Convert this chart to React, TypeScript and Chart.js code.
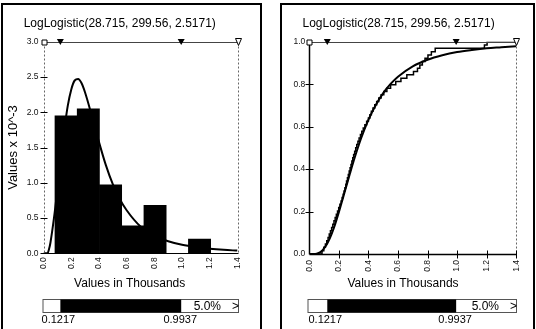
import React, { useEffect, useRef } from 'react';
import { Chart, registerables } from 'chart.js';

Chart.register(...registerables);

// ---------- data ----------
const TITLE = 'LogLogistic(28.715, 299.56, 2.5171)';
const X_TITLE = 'Values in Thousands';
const Y_TITLE_LEFT = 'Values x 10^-3';

const X_MIN = 0;
const X_MAX = 1.4;
const X_TICKS = [0, 0.2, 0.4, 0.6, 0.8, 1.0, 1.2, 1.4];
const LEFT_Y_TICKS = [0, 0.5, 1.0, 1.5, 2.0, 2.5, 3.0];
const RIGHT_Y_TICKS = [0, 0.2, 0.4, 0.6, 0.8, 1.0];

// histogram (bin centres in thousands, density x 10^-3)
const binCenters = [0.163, 0.3235, 0.484, 0.6445, 0.805, 0.9655, 1.126];
const binHeights = [1.95, 2.05, 0.97, 0.39, 0.68, 0, 0.2];

// fitted LogLogistic curve
const curveX = [0, 0.029, 0.04, 0.05, 0.075, 0.1, 0.125, 0.15, 0.175, 0.2, 0.225, 0.25, 0.275, 0.3, 0.35, 0.4, 0.45, 0.5, 0.55, 0.6, 0.7, 0.8, 0.9, 1.0, 1.1, 1.2, 1.3, 1.4];
const densityY = [0, 0, 0.06, 0.15, 0.49, 0.9, 1.34, 1.75, 2.09, 2.32, 2.45, 2.47, 2.41, 2.28, 1.94, 1.58, 1.25, 0.98, 0.77, 0.61, 0.38, 0.25, 0.17, 0.12, 0.088, 0.065, 0.049, 0.038];
const cdfY = [0, 0, 0.0002, 0.0013, 0.009, 0.026, 0.054, 0.093, 0.141, 0.197, 0.257, 0.318, 0.379, 0.438, 0.544, 0.632, 0.702, 0.758, 0.801, 0.835, 0.884, 0.915, 0.936, 0.951, 0.961, 0.969, 0.974, 0.979];

// sorted input sample (thousands) for the empirical step curve
const sampleValues = [
  0.086, 0.098, 0.109, 0.118, 0.127, 0.135, 0.143, 0.151, 0.159, 0.167,
  0.175, 0.183, 0.191, 0.199, 0.207, 0.215, 0.222, 0.229, 0.235, 0.241,
  0.247, 0.252, 0.258, 0.264, 0.27, 0.276, 0.282, 0.288, 0.294, 0.3,
  0.307, 0.314, 0.321, 0.329, 0.337, 0.346, 0.355, 0.365, 0.376, 0.388, 0.4,
  0.41, 0.42, 0.431, 0.443, 0.456, 0.47, 0.486, 0.504, 0.525, 0.55,
  0.585, 0.62, 0.66, 0.705,
  0.732, 0.748, 0.765, 0.783, 0.803, 0.826, 0.852,
  1.185, 1.203,
];

const LOWER_PCT = 0.1217;
const UPPER_PCT = 0.9937;
const LOWER_LABEL = '0.1217';
const UPPER_LABEL = '0.9937';
const TAIL_LABEL = '5.0%';

const FONT = "'Liberation Sans', Arial, Helvetica, sans-serif";
Chart.defaults.font.family = FONT;
Chart.defaults.color = '#000';

// ---------- decoration plugin ----------
function decorPlugin(opts: { panel: 'density' | 'cdf'; xTitleX: number }) {
  return {
    id: 'decor',
    afterDraw(chart: any) {
      const { ctx, chartArea: ca } = chart;
      const xs = chart.scales.x;
      const ys = chart.scales.y;
      const px = (v: number) => xs.getPixelForValue(v);
      const py = (v: number) => ys.getPixelForValue(v);
      const x0 = Math.round(px(X_MIN)) + 0.5;
      const x1 = Math.round(px(X_MAX)) + 0.5;
      const top = Math.round(ca.top) + 0.5;
      const bottom = Math.round(ca.bottom) + 0.5;
      const seg = (a: number, b: number, c: number, d: number) => {
        ctx.beginPath();
        ctx.moveTo(a, b);
        ctx.lineTo(c, d);
        ctx.stroke();
      };
      ctx.save();
      // dashed boundaries
      ctx.strokeStyle = '#666';
      ctx.lineWidth = 1;
      ctx.setLineDash([2, 2]);
      seg(x1, top, x1, bottom);
      if (opts.panel === 'density') seg(x0, top, x0, bottom);
      ctx.setLineDash([]);
      ctx.strokeStyle = '#000';
      if (opts.panel === 'cdf') {
        ctx.lineWidth = 1.5;
        seg(x0, top, x0, bottom);
        seg(x0, bottom, x1, bottom);
        ctx.lineWidth = 1;
        for (const v of X_TICKS.slice(1)) {
          const x = Math.round(px(v)) + 0.5;
          seg(x, bottom - 4, x, bottom + 4);
        }
        for (const v of RIGHT_Y_TICKS.slice(1, -1)) {
          const y = Math.round(py(v)) + 0.5;
          seg(x0 - 4, y, x0 + 4, y);
        }
      } else {
        ctx.lineWidth = 1;
        seg(x0, bottom, x1, bottom);
        for (const v of LEFT_Y_TICKS.slice(0, -1)) {
          const y = Math.round(py(v)) + 0.5;
          seg(x0 - 4, y, x0 + 3, y);
        }
      }
      // top delimiter line
      ctx.strokeStyle = '#444';
      ctx.lineWidth = 1;
      seg(x0, top, x1, top);
      // markers
      ctx.fillStyle = '#000';
      for (const v of [LOWER_PCT, UPPER_PCT]) {
        const x = px(v);
        ctx.beginPath();
        ctx.moveTo(x - 3.5, top - 3.5);
        ctx.lineTo(x + 3.5, top - 3.5);
        ctx.lineTo(x, top + 2.5);
        ctx.closePath();
        ctx.fill();
      }
      ctx.strokeStyle = '#000';
      ctx.fillStyle = '#fff';
      ctx.beginPath();
      ctx.rect(x0 - 2.5, top - 2.5, 5, 5);
      ctx.fill();
      ctx.stroke();
      ctx.beginPath();
      ctx.moveTo(x1 - 3, top - 4);
      ctx.lineTo(x1 + 3, top - 4);
      ctx.lineTo(x1, top + 3);
      ctx.closePath();
      ctx.fill();
      ctx.stroke();

      // x axis title
      ctx.fillStyle = '#000';
      ctx.font = `12px ${FONT}`;
      ctx.textAlign = 'center';
      ctx.textBaseline = 'middle';
      ctx.fillText(X_TITLE, opts.xTitleX, 284);

      // bottom percentile bar
      const bTop = 299.5;
      const bH = 13;
      const bL = x0 - 1.5;
      const bR = x1;
      ctx.strokeStyle = '#555';
      ctx.lineWidth = 1;
      ctx.strokeRect(bL, bTop, bR - bL, bH);
      ctx.fillStyle = '#000';
      ctx.fillRect(px(LOWER_PCT), bTop, px(UPPER_PCT) - px(LOWER_PCT), bH);
      ctx.font = `12px ${FONT}`;
      ctx.textAlign = 'right';
      ctx.fillText(TAIL_LABEL, bR - 17.5, bTop + bH / 2 + 0.5);
      ctx.textAlign = 'center';
      ctx.fillText('>', bR - 3, bTop + bH / 2 + 0.5);
      ctx.font = `11px ${FONT}`;
      ctx.fillText(LOWER_LABEL, px(LOWER_PCT) - 2, 319.5);
      ctx.fillText(UPPER_LABEL, px(UPPER_PCT) - 1, 319.5);
      ctx.restore();
    },
  };
}

const xTickCallback = (v: any) => Number(v).toFixed(1);

function xScale(padding: number) {
  return {
    type: 'linear',
    min: X_MIN,
    max: X_MAX,
    offset: false,
    grid: { display: false, drawTicks: false },
    border: { display: false },
    afterBuildTicks: (s: any) => {
      s.ticks = X_TICKS.map((value) => ({ value }));
    },
    afterFit: (s: any) => {
      s.height = 20;
    },
    ticks: {
      autoSkip: false,
      minRotation: 90,
      maxRotation: 90,
      padding,
      font: { size: 8.5 },
      color: '#111',
      callback: xTickCallback,
    },
  };
}

const titleOpts = {
  display: true,
  text: TITLE,
  color: '#000',
  font: { size: 12, weight: 'normal' as const },
  padding: { top: 16.6, bottom: 10.7 },
};

function leftConfig(): any {
  return {
    type: 'line',
    data: {
      datasets: [
        {
          type: 'line',
          data: curveX.map((x, i) => ({ x, y: densityY[i] })),
          borderColor: '#000',
          borderWidth: 2,
          pointRadius: 0,
          fill: false,
          cubicInterpolationMode: 'monotone',
        },
        {
          type: 'bar',
          data: binCenters.map((x, i) => ({ x, y: binHeights[i] })),
          backgroundColor: '#000',
          borderWidth: 0,
          barPercentage: 1,
          categoryPercentage: 1,
        },
      ],
    },
    options: {
      responsive: false,
      animation: false,
      devicePixelRatio: 1,
      layout: { padding: { left: 0, right: 23.5, top: 0, bottom: 55.7 } },
      plugins: { legend: { display: false }, tooltip: { enabled: false }, title: titleOpts },
      scales: {
        x: xScale(4),
        y: {
          type: 'linear',
          min: 0,
          max: 3,
          grid: { display: false, drawTicks: false },
          border: { display: false },
          afterBuildTicks: (s: any) => {
            s.ticks = LEFT_Y_TICKS.map((value) => ({ value }));
          },
          afterFit: (s: any) => {
            s.width = 41.5;
          },
          ticks: { padding: 5, font: { size: 8.5 }, color: '#111', callback: xTickCallback },
          title: {
            display: true,
            text: Y_TITLE_LEFT,
            color: '#000',
            font: { size: 13 },
            padding: { top: 4, bottom: 0 },
          },
        },
      },
    },
    plugins: [decorPlugin({ panel: 'density', xTitleX: 127.7 })],
  };
}

function rightConfig(): any {
  return {
    type: 'line',
    data: {
      datasets: [
        {
          data: curveX.map((x, i) => ({ x, y: cdfY[i] })),
          borderColor: '#000',
          borderWidth: 2,
          pointRadius: 0,
          fill: false,
          cubicInterpolationMode: 'monotone',
        },
        {
          data: [
            { x: X_MIN, y: 0 },
            ...sampleValues.map((x, i) => ({ x, y: (i + 1) / sampleValues.length })),
            { x: X_MAX, y: 1 },
          ],
          borderColor: '#000',
          borderWidth: 1.5,
          pointRadius: 0,
          fill: false,
          stepped: 'before',
        },
      ],
    },
    options: {
      responsive: false,
      animation: false,
      devicePixelRatio: 1,
      layout: { padding: { left: 0, right: 17.8, top: 0, bottom: 55 } },
      plugins: { legend: { display: false }, tooltip: { enabled: false }, title: titleOpts },
      scales: {
        x: xScale(6),
        y: {
          type: 'linear',
          min: 0,
          max: 1,
          grid: { display: false, drawTicks: false },
          border: { display: false },
          afterBuildTicks: (s: any) => {
            s.ticks = RIGHT_Y_TICKS.map((value) => ({ value }));
          },
          afterFit: (s: any) => {
            s.width = 28.3;
          },
          ticks: { padding: 4, font: { size: 8.5 }, color: '#111', callback: xTickCallback },
        },
      },
    },
    plugins: [decorPlugin({ panel: 'cdf', xTitleX: 122 })],
  };
}

function ChartCanvas({ make, left, width }: { make: () => any; left: number; width: number }) {
  const ref = useRef<HTMLCanvasElement>(null);
  useEffect(() => {
    const chart = new Chart(ref.current as HTMLCanvasElement, make());
    return () => chart.destroy();
  }, [make]);
  return (
    <canvas
      ref={ref}
      width={width}
      height={329}
      style={{ position: 'absolute', left, top: 0, width, height: 329 }}
    />
  );
}

export default function App() {
  const border = {
    position: 'absolute' as const,
    top: 3,
    height: 340,
    boxSizing: 'border-box' as const,
    border: '2px solid #000',
    borderBottom: 'none',
  };
  return (
    <div style={{ position: 'relative', width: 536, height: 329, overflow: 'hidden', background: '#fff' }}>
      <style>{'body{margin:0;background:#fff;}'}</style>
      <div style={{ ...border, left: 1, width: 261 }} />
      <div style={{ ...border, left: 280, width: 255 }} />
      <ChartCanvas make={leftConfig} left={2} width={259} />
      <ChartCanvas make={rightConfig} left={281} width={253} />
    </div>
  );
}
